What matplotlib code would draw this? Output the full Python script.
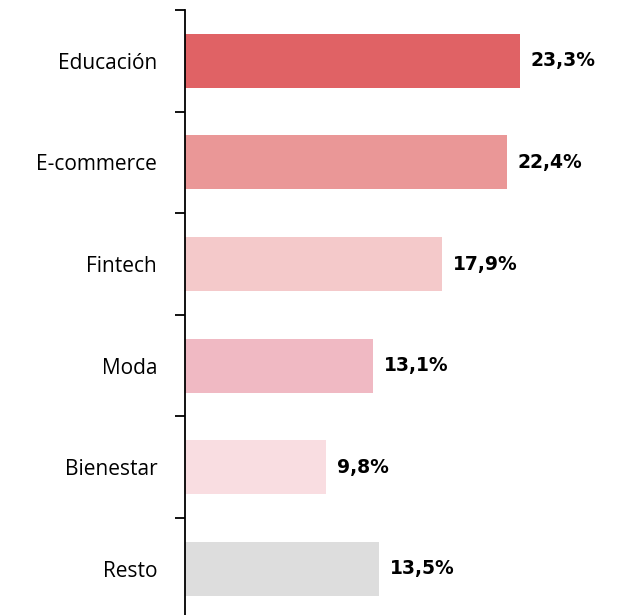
import matplotlib.pyplot as plt
import numpy as np

categorias = ["Educación", "E-commerce", "Fintech", "Moda", "Bienestar", "Resto"]
valores = [23.3, 22.4, 17.9, 13.1, 9.8, 13.5]
colores = ["#E06265", "#EA9797", "#F4C9CA", "#F0B9C3", "#F9DDE1", "#DDDDDD"]

plt.rcParams["font.family"] = ["Open Sans", "DejaVu Sans"]

fig = plt.figure(figsize=(6.25, 6.15), dpi=100)
ax = fig.add_axes([185 / 625, -0.0075, 440 / 625, 0.9912])

y = np.arange(len(categorias))
ax.barh(y, valores, height=0.53, color=colores)
ax.set_ylim(len(categorias) - 0.5, -0.5)
ax.set_xlim(0, 440 / 14.38)

for yi, v in zip(y, valores):
    ax.text(v + 0.75, yi, f"{v:.1f}%".replace(".", ","), va="center", ha="left",
            fontsize=13.5, fontweight="bold", family=["DejaVu Sans"])

# etiquetas centradas, marcas en los limites de cada categoria
ax.set_yticks(y)
ax.set_yticklabels(categorias, fontsize=15)
ax.tick_params(axis="y", which="major", length=0, pad=20)
ax.set_yticks(np.arange(len(categorias) + 1) - 0.5, minor=True)
ax.tick_params(axis="y", which="minor", length=7, width=1.3, direction="out")

ax.set_xticks([])
for lado in ["top", "right", "bottom"]:
    ax.spines[lado].set_visible(False)
ax.spines["left"].set_linewidth(1.3)

plt.savefig("out.png", dpi=100)
plt.close()
